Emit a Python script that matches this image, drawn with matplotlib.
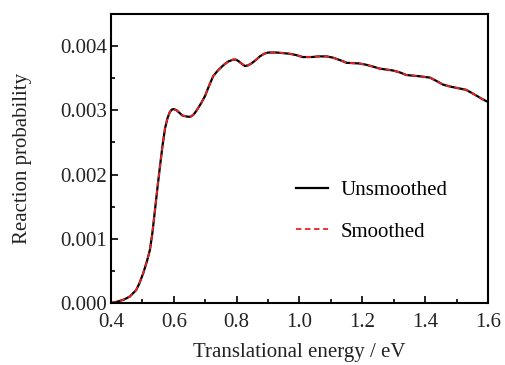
import matplotlib
matplotlib.use("Agg")
import matplotlib.pyplot as plt
from matplotlib.ticker import MultipleLocator, FormatStrFormatter

plt.rcParams['font.family'] = ['Liberation Serif', 'DejaVu Serif']

energy = [0.40, 0.42, 0.44, 0.46, 0.48, 0.49, 0.503, 0.515, 0.524, 0.532, 0.54, 0.548,
          0.556, 0.564, 0.572, 0.580, 0.587, 0.593, 0.600, 0.609, 0.618, 0.627, 0.635,
          0.645, 0.653, 0.662, 0.670, 0.678, 0.688, 0.699, 0.712, 0.725, 0.740, 0.757,
          0.773, 0.789, 0.797, 0.805, 0.815, 0.826, 0.836, 0.847, 0.860, 0.874, 0.887,
          0.900, 0.927, 0.95, 0.97, 0.99, 1.01, 1.04, 1.06, 1.086, 1.107, 1.13, 1.15,
          1.19, 1.212, 1.235, 1.255, 1.298, 1.32, 1.34, 1.383, 1.415, 1.435, 1.457,
          1.48, 1.50, 1.53, 1.545, 1.563, 1.58, 1.60]
unsmoothed = [0.0, 0.00002, 0.00005, 0.00010, 0.00020, 0.00030, 0.00047, 0.00066, 0.00083,
              0.00110, 0.00145, 0.00180, 0.00213, 0.00245, 0.00272, 0.00288, 0.00297,
              0.00301, 0.00302, 0.00300, 0.00296, 0.00292, 0.00291, 0.00290, 0.00290,
              0.00293, 0.00298, 0.00304, 0.00312, 0.00322, 0.00338, 0.00353, 0.00362,
              0.00370, 0.00376, 0.00379, 0.00379, 0.00377, 0.00373, 0.00369, 0.00370,
              0.00373, 0.00378, 0.00384, 0.00388, 0.00390, 0.00390, 0.00389, 0.00388,
              0.00386, 0.00383, 0.00383, 0.00384, 0.00384, 0.00382, 0.00378, 0.00374,
              0.00373, 0.00371, 0.00368, 0.00365, 0.00362, 0.00359, 0.00355, 0.00353,
              0.00351, 0.00346, 0.00340, 0.00337, 0.00335, 0.00332, 0.00328, 0.00323,
              0.00318, 0.00313]
smoothed = list(unsmoothed)

xticks = [0.4, 0.6, 0.8, 1.0, 1.2, 1.4, 1.6]
yticks = [0.000, 0.001, 0.002, 0.003, 0.004]

fig = plt.figure(figsize=(5.05, 3.65), dpi=100)
ax = fig.add_axes([0.2198, 0.170, 0.7465, 0.7916])

ax.plot(energy, unsmoothed, color='black', lw=1.6, label='Unsmoothed')
ax.plot(energy, smoothed, color='#ee2222', lw=1.3, ls=(0, (3, 2)), label='Smoothed')

ax.set_xlim(0.4, 1.6)
ax.set_ylim(0.0, 0.0045)
ax.set_xticks(xticks)
ax.set_yticks(yticks)
ax.xaxis.set_minor_locator(MultipleLocator(0.1))
ax.yaxis.set_minor_locator(MultipleLocator(0.0005))
ax.xaxis.set_major_formatter(FormatStrFormatter('%.1f'))
ax.yaxis.set_major_formatter(FormatStrFormatter('%.3f'))
ax.tick_params(which='both', direction='in', labelsize=15, width=1.2, labelcolor='#222222')
ax.tick_params(which='major', length=5)
ax.tick_params(which='minor', length=3)
ax.tick_params(axis='x', pad=7)
ax.tick_params(axis='y', pad=3)
for s in ax.spines.values():
    s.set_linewidth(1.5)

ax.set_xlabel('Translational energy / eV', fontsize=15, labelpad=8, color='#222222')
ax.set_ylabel('Reaction probability', fontsize=15, labelpad=20, color='#222222')

leg = ax.legend(loc='center left', bbox_to_anchor=(0.44, 0.318), frameon=False,
                fontsize=15, handlelength=1.55, handletextpad=0.6, labelspacing=1.05)

fig.savefig('out.png', dpi=100)
